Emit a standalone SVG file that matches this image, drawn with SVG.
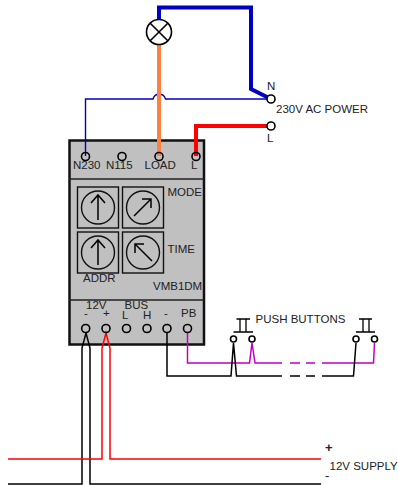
<svg xmlns="http://www.w3.org/2000/svg" width="398" height="485" viewBox="0 0 398 485">
<style>
text{font-family:"Liberation Sans",Arial,sans-serif;font-size:11.500px;fill:#222}
.w{fill:none;stroke-linejoin:miter}
.k{stroke:#000;stroke-width:1.500}
.r{stroke:#f00;stroke-width:1.500}
.p{stroke:#c000c0;stroke-width:1.500}
.t{fill:#fff;stroke:#000;stroke-width:1.600}
.tb{fill:none;stroke:#000;stroke-width:1.600}
.s{fill:none;stroke:#111;stroke-width:1.400}
.a{fill:none;stroke:#000;stroke-width:1.500}
</style>
<rect width="398" height="485" fill="#fff"/>
<g id="module">
<rect x="69.500" y="140.500" width="134.500" height="204" fill="#c0c0c0" stroke="#111" stroke-width="2.500"/>
<path d="M69 179H204M69 300H204" stroke="#222" stroke-width="1.600" fill="none"/>
<text x="73" y="169">N230</text><text x="106" y="169">N115</text><text x="144.500" y="169">LOAD</text><text x="191" y="169">L</text>
<text x="167.500" y="196">MODE</text><text x="167.500" y="253">TIME</text><text x="83" y="282">ADDR</text><text x="153" y="290">VMB1DM</text>
<text x="86" y="309">12V</text><text x="124.500" y="309">BUS</text>
<text x="84" y="317">-</text><text x="103" y="317">+</text><text x="122" y="319">L</text><text x="143" y="319">H</text><text x="164" y="317">-</text><text x="181" y="317">PB</text>
</g>
<g id="dial-1"><rect x="77.500" y="187" width="41" height="41" class="s"/><circle cx="98" cy="207.500" r="16.500" class="s"/><path d="M98 220V195M91 203L98 195L105 203" class="a"/></g>
<g id="dial-2"><rect x="122.500" y="187" width="41" height="41" class="s"/><circle cx="143" cy="207.500" r="16.500" class="s"/><path d="M134 216L151 199M142 199H151V208" class="a"/></g>
<g id="dial-3"><rect x="77.500" y="232" width="41" height="41" class="s"/><circle cx="98" cy="252.500" r="16.500" class="s"/><path d="M98 265V240M91 248L98 240L105 248" class="a"/></g>
<g id="dial-4"><rect x="122.500" y="232" width="41" height="41" class="s"/><circle cx="143" cy="252.500" r="16.500" class="s"/><path d="M152 261L135 244M135 253V244H144" class="a"/></g>
<g id="connectors">
<path class="w" d="M159 20V7.500H251V89L271 99" stroke="#0000c0" stroke-width="4"/>
<path class="w" d="M271 99H165.500A6.500 6.500 0 0 0 153 99H85.500V156" stroke="#0000c0" stroke-width="1.400"/>
<path class="w" d="M159 44V156" stroke="#ff8040" stroke-width="4"/>
<path class="w" d="M196 156V126H271" stroke="#f00" stroke-width="4"/>
<path class="w k" d="M8 484H82V348L86 333M86 333L90 348V484H321"/>
<path class="w r" d="M8 459H102V348L106 333L110 348V459H321"/>
<path class="w p" d="M187.500 332V363H249.500L252 343L255 363H282M290 363H300M306 363H315M322 363H373.500L374.500 343"/>
<path class="w k" d="M167 332V376H231L233.500 343L236.500 376H282M290 376H300M306 376H315M322 376H353.500L356 343"/>
</g>
<g id="lamp"><circle cx="159" cy="32" r="12.500" fill="#fff" stroke="#000" stroke-width="1.600"/><path d="M150.200 23.200L167.800 40.800M167.800 23.200L150.200 40.800" stroke="#000" stroke-width="1.600"/></g>
<g id="terminals">
<circle cx="85.500" cy="156.500" r="4" class="tb"/><circle cx="122" cy="156.500" r="4" class="tb"/><circle cx="159" cy="156.500" r="4" class="tb"/><circle cx="196" cy="156.500" r="4" class="tb"/>
<circle cx="85.700" cy="328.500" r="4" class="tb"/><circle cx="106" cy="328.500" r="4" class="tb"/><circle cx="126.500" cy="328.500" r="4" class="tb"/><circle cx="147" cy="328.500" r="4" class="tb"/><circle cx="167" cy="328.500" r="4" class="tb"/><circle cx="187.500" cy="328.500" r="4" class="tb"/>
</g>
<g id="power"><circle cx="271" cy="99" r="4" class="t"/><circle cx="271" cy="126" r="4" class="t"/>
<text x="267" y="90">N</text><text x="276" y="113">230V AC POWER</text><text x="267" y="142">L</text></g>
<g id="button-1"><path d="M233.500 332H253M240 332V319M246 332V319M236.500 319H250" stroke="#000" stroke-width="1.300" fill="none"/><circle cx="233.500" cy="339" r="3" class="t"/><circle cx="252" cy="339" r="3" class="t"/></g>
<g id="button-2"><path d="M356 332H375M363 332V319M369 332V319M359 319H372" stroke="#000" stroke-width="1.300" fill="none"/><circle cx="356" cy="339" r="3" class="t"/><circle cx="374.500" cy="339" r="3" class="t"/></g>
<text x="255.500" y="323">PUSH BUTTONS</text>
<g id="supply"><text x="325" y="452" style="font-size:13px;font-weight:bold">+</text><text x="329.500" y="470">12V SUPPLY</text><text x="325" y="480" style="font-size:13px">-</text></g>
</svg>
